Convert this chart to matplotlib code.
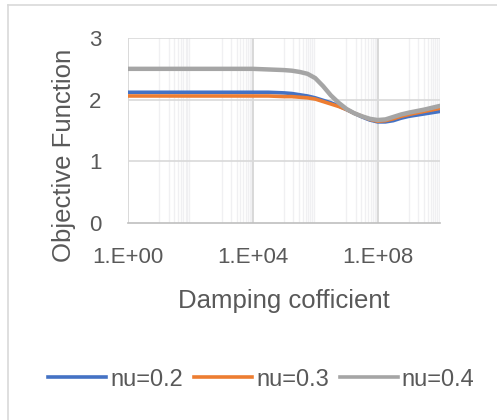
import numpy as np
import matplotlib
matplotlib.use('Agg')
import matplotlib.pyplot as plt
from matplotlib.lines import Line2D

# log10 of the damping coefficient and objective values
log_damping = [0, 1, 2, 3, 4, 4.5, 5, 5.25, 5.5, 5.75, 6, 6.25, 6.5, 6.75,
               7, 7.25, 7.5, 7.75, 8, 8.25, 8.5, 8.75, 9, 9.5, 10]
nu_02 = [2.12, 2.12, 2.12, 2.12, 2.12, 2.12, 2.11, 2.10, 2.08, 2.06, 2.03, 1.99, 1.95,
         1.90, 1.84, 1.78, 1.72, 1.67, 1.64, 1.64, 1.66, 1.70, 1.73, 1.77, 1.81]
nu_03 = [2.06, 2.06, 2.06, 2.06, 2.06, 2.06, 2.05, 2.05, 2.04, 2.03, 2.01, 1.97, 1.93,
         1.89, 1.84, 1.78, 1.73, 1.68, 1.65, 1.66, 1.69, 1.73, 1.76, 1.81, 1.86]
nu_04 = [2.50, 2.50, 2.50, 2.50, 2.50, 2.49, 2.48, 2.47, 2.45, 2.42, 2.35, 2.22, 2.07,
         1.95, 1.85, 1.78, 1.73, 1.69, 1.67, 1.68, 1.72, 1.76, 1.79, 1.84, 1.90]

labels = ['nu=0.2', 'nu=0.3', 'nu=0.4']
colors = ['#4472C4', '#ED7D31', '#A5A5A5']

plt.rcParams['font.family'] = ['Liberation Sans', 'DejaVu Sans']
txt = '#595959'

damping = 10.0 ** np.array(log_damping)

fig = plt.figure(figsize=(4.97, 4.2), dpi=100)
ax = fig.add_axes([0.2575, 0.469, 0.628, 0.4405])

# Excel-style log gridlines: major every 1e4, minor at 10^(4m+1)*k and 10^(4m+3)*k
for m in range(3):
    base = 10.0 ** (4 * m)
    for k in range(1, 10):
        for e in (1, 3):
            xv = base * k * 10 ** e
            if xv < 1e10:
                ax.axvline(xv, color='#f0f0f2', lw=1.0, zorder=0)
for xv in [1e0, 1e4, 1e8]:
    ax.axvline(xv, color='#d9d9d9', lw=1.4, zorder=0.5)
for yv in [1, 2, 3]:
    ax.axhline(yv, color='#d9d9d9', lw=1.2, zorder=0.6)

ax.plot(damping, nu_02, color=colors[0], lw=2.6, solid_capstyle='round', solid_joinstyle='round', zorder=3)
ax.plot(damping, nu_03, color=colors[1], lw=2.6, solid_capstyle='round', solid_joinstyle='round', zorder=4)
ax.plot(damping, nu_04, color=colors[2], lw=3.2, solid_capstyle='round', solid_joinstyle='round', zorder=5)

ax.set_xscale('log')
ax.set_xlim(1, 1e10)
ax.set_ylim(0, 3)
ax.set_yticks([0, 1, 2, 3])
ax.set_xticks([1e0, 1e4, 1e8])
ax.set_xticklabels(['1.E+00', '1.E+04', '1.E+08'])
ax.minorticks_off()
ax.tick_params(length=0, labelsize=16, colors=txt)
ax.tick_params(axis='x', pad=17)
ax.tick_params(axis='y', pad=19)
for s in ['top', 'right', 'left']:
    ax.spines[s].set_visible(False)
ax.spines['bottom'].set_color('#bfbfbf')
ax.spines['bottom'].set_linewidth(1.2)

fig.text(284 / 497, 1 - 301 / 420, 'Damping cofficient', fontsize=18.5, color=txt,
         ha='center', va='center')
fig.text(64 / 497, 1 - 155 / 420, 'Objective Function', fontsize=18.5, color=txt,
         ha='center', va='center', rotation=90)

handles = [Line2D([0], [0], color=c, lw=2.6) for c in colors]
fig.legend(handles, labels, loc='center', bbox_to_anchor=(0.526, 0.096), ncol=3,
           frameon=False, fontsize=17, labelcolor=txt, handlelength=2.45,
           handletextpad=0.17, columnspacing=0.47)

# chart area border (left and top edges visible)
fig.add_artist(Line2D([8 / 497, 8 / 497], [0, 1 - 5 / 420], color='#d9d9d9', lw=1.2))
fig.add_artist(Line2D([8 / 497, 1], [1 - 5 / 420, 1 - 5 / 420], color='#d9d9d9', lw=1.2))

fig.savefig('out.png', dpi=100)
